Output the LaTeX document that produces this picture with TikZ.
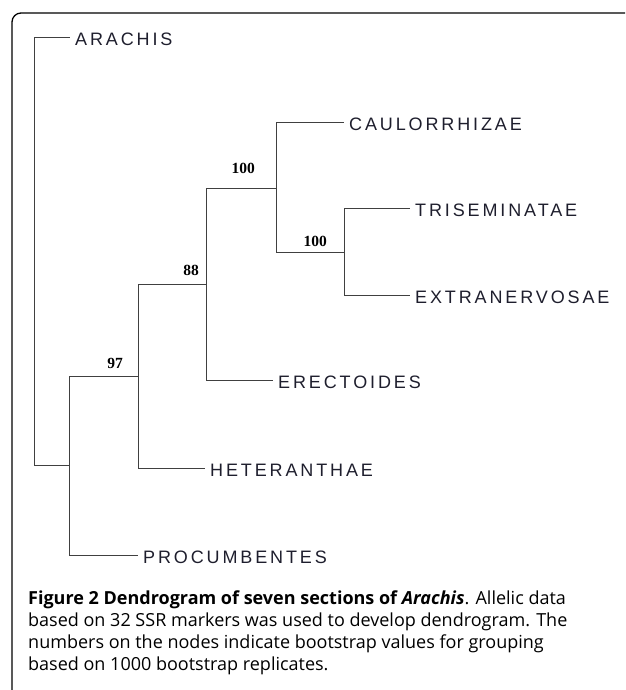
\documentclass[tikz,border=0pt]{standalone}
\usepackage{fontspec}
\setmainfont{Open Sans}
\newfontfamily\taxonfont[LetterSpace=16]{Liberation Sans}
\newfontfamily\bootfont{Liberation Serif}
\definecolor{taxoncol}{RGB}{30,30,45}

\begin{document}
\begin{tikzpicture}[x=1pt, y=-1pt,
        branch/.style={draw=black!75, line width=0.9pt},
        taxon/.style={anchor=west, inner xsep=5pt, inner ysep=0pt, text=taxoncol,
            font=\taxonfont\fontsize{18}{18}\selectfont},
        boot/.style={anchor=south east, inner sep=0pt,
            font=\bootfont\bfseries\fontsize{15.5}{15.5}\selectfont}]
        \useasboundingbox (0,0) rectangle (625,690);
        \clip (0,0) rectangle (625,690);
        % Draw the frame
        \draw[line width=1.3pt, rounded corners=9pt] (12,13) rectangle (660,720);
        % Place the sections
        \node[taxon] (arachis) at (70,39.5) {ARACHIS};
        \node[taxon] (caulor) at (344,124.5) {CAULORRHIZAE};
        \node[taxon] (trisem) at (410,210.5) {TRISEMINATAE};
        \node[taxon] (extran) at (410,297.5) {EXTRANERVOSAE};
        \node[taxon] (erect) at (273,382.5) {ERECTOIDES};
        \node[taxon] (heter) at (205,470.5) {HETERANTHAE};
        \node[taxon] (procum) at (138,557.5) {PROCUMBENTES};
        % Place the inner nodes
        \coordinate (root) at (34,250);
        \coordinate (nb) at (69,465);
        \coordinate (n97) at (138,376);
        \coordinate (n88) at (206,284);
        \coordinate (n100a) at (276,188);
        \coordinate (n100b) at (344,252);
        % Draw the branches
        \foreach \p/\c in {root/nb, nb/n97, n97/n88, n88/n100a, n100a/n100b}
            \draw[branch] (\p) |- (\c);
        \foreach \p/\c in {root/arachis, nb/procum, n97/heter, n88/erect,
                n100a/caulor, n100b/trisem, n100b/extran}
            \draw[branch] (\p) |- ([yshift=2.5pt]\c.west);
        % Bootstrap values
        \node[boot] (b97) at (123,369) {97};
        \node[boot] (b88) at (199,276) {88};
        \node[boot] (b100a) at (255,174) {100};
        \node[boot] (b100b) at (327,247) {100};

        % Caption
        \node[anchor=north west, inner sep=0pt, align=left,
            font=\fontsize{18}{22}\selectfont] (caption) at (28,591)
            {\textbf{Figure 2 Dendrogram of seven sections of \textit{Arachis}}. Allelic data\\
             based on 32 SSR markers was used to develop dendrogram. The\\
             numbers on the nodes indicate bootstrap values for grouping\\
             based on 1000 bootstrap replicates.};
    \end{tikzpicture}
\end{document}
